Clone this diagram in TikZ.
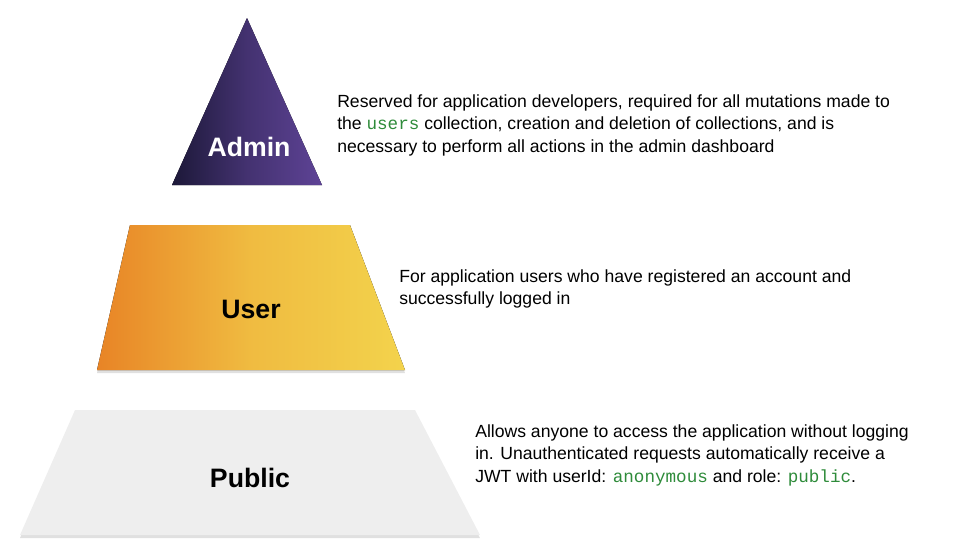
\documentclass[tikz,border=0pt]{standalone}
\usepackage{fontspec}
\setmainfont{Liberation Sans}
\setmonofont{Liberation Mono}
\usetikzlibrary{positioning}
\definecolor{codegreen}{HTML}{2E8B3A}
\definecolor{adminL}{HTML}{1C1838}
\definecolor{adminR}{HTML}{5E4396}
\definecolor{userL}{HTML}{E88426}
\definecolor{userR}{HTML}{F3D34C}
\definecolor{publicfill}{HTML}{EEEEEE}
\newcommand{\code}[1]{{\ttfamily\color{codegreen}#1}}
\tikzset{
  tier/.style={font=\fontsize{20}{24}\selectfont\bfseries},
  desc/.style={font=\fontsize{13.2}{16.9}\selectfont, align=left, anchor=north west, inner sep=0pt},
  shade/.style={fill=black!35, opacity=0.35}
}
\begin{document}
\begin{tikzpicture}[x=0.75pt,y=-0.75pt]
\useasboundingbox (0,0) rectangle (960,557);
% admin
\fill[left color=adminL, right color=adminR, middle color=adminL!40!adminR] (247,18) -- (322,185) -- (172,185) -- cycle;
\node[tier, text=white](admin) at (249,147) {Admin};
% user
\fill[shade] (130,228) -- (350,228) -- (405,373) -- (97,373) -- cycle;
\fill[left color=userL, right color=userR, middle color=userL!30!userR] (130,225) -- (350,225) -- (405,370) -- (97,370) -- cycle;
\node[tier](user) at (251,309) {User};
% public
\fill[shade] (75,413) -- (415,413) -- (480,538) -- (20,538) -- cycle;
\fill[publicfill] (75,410) -- (415,410) -- (480,535) -- (20,535) -- cycle;
\node[tier](public) at (250,478) {Public};
% descriptions
\node[desc](admintext) at (337,94) {Reserved for application developers, required for all mutations made to\\
the \code{users} collection, creation and deletion of collections, and is\\
necessary to perform all actions in the admin dashboard};
\node[desc](usertext) at (399,269) {For application users who have registered an account and\\
successfully logged in};
\node[desc](publictext) at (475,424) {Allows anyone to access the application without logging\\
in. Unauthenticated requests automatically receive a\\
JWT with userId: \code{anonymous} and role: \code{public}.};
\end{tikzpicture}
\end{document}
